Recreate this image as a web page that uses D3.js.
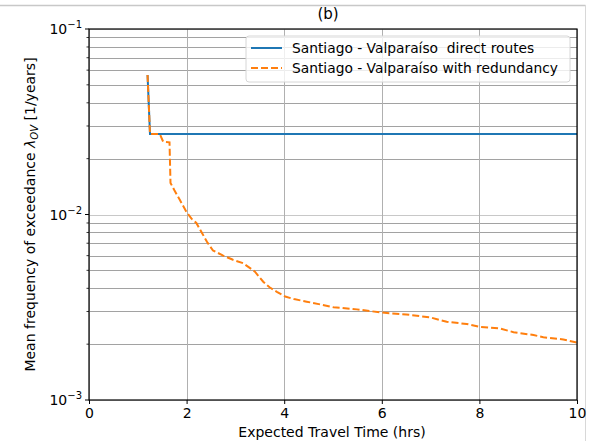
<!DOCTYPE html>
<html lang="en">
<head>
  <meta charset="UTF-8">
  <script src="https://cdn.jsdelivr.net/npm/d3@7"></script>
  <title>Mean frequency of exceedance</title>
  <style>
    body { margin: 0; background: #fff; }
    text { font-family: "DejaVu Sans", sans-serif; fill: #000; }
  </style>
</head>
<body>
  <svg width="596" height="441" id="chart"></svg>
  <script>
    // data
    let directTime = [1.2, 1.25, 10];
    let directFreq = [0.0565, 0.0272, 0.0272];

    let redundTime = [1.2, 1.25, 1.45, 1.52, 1.65, 1.67, 1.75, 1.86, 2.0, 2.1, 2.2, 2.31, 2.42, 2.54, 2.75, 2.95,
      3.16, 3.4, 3.57, 3.7, 3.85, 4.02, 4.2, 4.46, 4.75, 5.01, 5.49, 6.0, 6.5, 6.99, 7.33, 7.74, 8.01, 8.42, 8.7,
      9.11, 9.31, 9.72, 10];
    let redundFreq = [0.0565, 0.0272, 0.0272, 0.0247, 0.0245, 0.0148, 0.0135, 0.0120, 0.0103, 0.0095, 0.0090,
      0.0080, 0.0071, 0.0064, 0.0060, 0.0057, 0.00546, 0.00492, 0.00434, 0.00405, 0.00383, 0.00361, 0.00350,
      0.00339, 0.00327, 0.00316, 0.00308, 0.00296, 0.00289, 0.00279, 0.00264, 0.00257, 0.00248, 0.00243,
      0.00232, 0.00224, 0.00218, 0.00212, 0.00204];

    let xTicks = [0, 2, 4, 6, 8, 10];
    let yTicks = [-3, -2, -1]; // powers of ten
    let seriesNames = ["Santiago - Valparaíso  direct routes", "Santiago - Valparaíso with redundancy"];

    let svg = d3.select("#chart");

    // the grey frame of the cropped screenshot
    svg.append("line").attr("x1", 0).attr("x2", 585.5).attr("y1", 5.5).attr("y2", 5.5)
      .attr("stroke", "#c8c8c8").attr("stroke-width", 1.5);
    svg.append("line").attr("x1", 585.5).attr("x2", 585.5).attr("y1", 5).attr("y2", 441)
      .attr("stroke", "#d8d8d8").attr("stroke-width", 1);

    let pLeft = 89, pRight = 577, pTop = 29, pBottom = 400;

    let scaleX = d3.scaleLinear().domain([0, 10]).range([pLeft, pRight]);
    let scaleY = d3.scaleLog().domain([1e-3, 1e-1]).range([pBottom, pTop]);

    let minorTicks = [];
    [1e-3, 1e-2].forEach(base => {
      for (let m = 2; m <= 9; m++) minorTicks.push(base * m);
    });

    /* GRID */
    let grid = svg.append("g");
    grid.selectAll(".minor").data(minorTicks).enter().append("line")
      .attr("x1", pLeft).attr("x2", pRight)
      .attr("y1", d => Math.round(scaleY(d)) + 0.5).attr("y2", d => Math.round(scaleY(d)) + 0.5)
      .attr("stroke", "#8a8a8a").attr("stroke-width", 0.8);
    grid.selectAll(".majorY").data(yTicks).enter().append("line")
      .attr("x1", pLeft).attr("x2", pRight)
      .attr("y1", d => Math.round(scaleY(Math.pow(10, d))) + 0.5)
      .attr("y2", d => Math.round(scaleY(Math.pow(10, d))) + 0.5)
      .attr("stroke", "#c8c8c8").attr("stroke-width", 1);
    grid.selectAll(".majorX").data(xTicks).enter().append("line")
      .attr("y1", pTop).attr("y2", pBottom)
      .attr("x1", d => Math.round(scaleX(d)) + 0.5).attr("x2", d => Math.round(scaleX(d)) + 0.5)
      .attr("stroke", "#b0b0b0").attr("stroke-width", 1);

    /* LINES */
    let line = d3.line()
      .x(d => scaleX(d[0]))
      .y(d => scaleY(d[1]));

    svg.append("path")
      .datum(directTime.map((t, i) => [t, directFreq[i]]))
      .attr("d", line).attr("fill", "none")
      .attr("stroke", "#1f77b4").attr("stroke-width", 2);

    svg.append("path")
      .datum(redundTime.map((t, i) => [t, redundFreq[i]]))
      .attr("d", line).attr("fill", "none")
      .attr("stroke", "#ff7f0e").attr("stroke-width", 2)
      .attr("stroke-dasharray", "7,3");

    /* AXES */
    let axisX = d3.axisBottom(scaleX).tickValues(xTicks).tickSize(4).tickPadding(4)
      .tickFormat(d3.format("d"));
    let gx = svg.append("g").attr("transform", `translate(0,${pBottom})`).call(axisX);
    gx.select(".domain").remove();
    gx.selectAll("text").style("font-family", "DejaVu Sans").style("font-size", "14px");

    let gy = svg.append("g").attr("transform", `translate(${pLeft},0)`);
    gy.selectAll(".minorTick").data(minorTicks).enter().append("line")
      .attr("x1", -2.5).attr("x2", 0)
      .attr("y1", d => scaleY(d)).attr("y2", d => scaleY(d))
      .attr("stroke", "#000").attr("stroke-width", 0.8);
    gy.selectAll(".majorTick").data(yTicks).enter().append("line")
      .attr("x1", -4).attr("x2", 0)
      .attr("y1", d => scaleY(Math.pow(10, d))).attr("y2", d => scaleY(Math.pow(10, d)))
      .attr("stroke", "#000").attr("stroke-width", 1);
    let yLab = gy.selectAll(".ylab").data(yTicks).enter().append("text")
      .attr("x", -7)
      .attr("y", d => scaleY(Math.pow(10, d)) + 5)
      .attr("text-anchor", "end")
      .style("font-size", "14px");
    yLab.append("tspan").text("10");
    yLab.append("tspan").attr("dy", -6).style("font-size", "10px").text(d => "\u2212" + Math.abs(d));

    // frame
    svg.append("rect").attr("x", pLeft).attr("y", pTop)
      .attr("width", pRight - pLeft).attr("height", pBottom - pTop)
      .attr("fill", "none").attr("stroke", "#000").attr("stroke-width", 1.2);

    /* LABELS */
    svg.append("text").attr("x", 328).attr("y", 19).attr("text-anchor", "middle")
      .style("font-size", "15px").text("(b)");

    svg.append("text").attr("x", 332).attr("y", 437).attr("text-anchor", "middle")
      .style("font-size", "14px").text("Expected Travel Time (hrs)");

    let yTitle = svg.append("text")
      .attr("transform", `translate(35,${(pTop + pBottom) / 2}) rotate(-90)`)
      .attr("text-anchor", "middle")
      .style("font-size", "14px");
    yTitle.append("tspan").text("Mean frequency of exceedance ");
    yTitle.append("tspan").style("font-style", "italic").text("\u03bb");
    yTitle.append("tspan").attr("dy", 3).style("font-size", "10px").style("font-style", "italic").text("OV");
    yTitle.append("tspan").attr("dy", -3).text(" [1/years]");

    /* LEGEND */
    let legend = svg.append("g").attr("transform", "translate(246,36)");
    legend.append("rect").attr("width", 324).attr("height", 46).attr("rx", 3)
      .attr("fill", "#fff").attr("fill-opacity", 0.8)
      .attr("stroke", "#d6d6d6").attr("stroke-width", 1);
    let items = legend.selectAll(".item").data(seriesNames).enter().append("g")
      .attr("transform", (d, i) => `translate(0,${12 + i * 20})`);
    items.append("line").attr("x1", 5).attr("x2", 36).attr("y1", 0).attr("y2", 0)
      .attr("stroke", (d, i) => i === 0 ? "#1f77b4" : "#ff7f0e")
      .attr("stroke-width", 2)
      .attr("stroke-dasharray", (d, i) => i === 0 ? null : "7,3");
    items.append("text").attr("x", 46).attr("y", 5)
      .style("font-size", "13.8px").style("white-space", "pre").text(d => d);
  </script>
</body>
</html>
